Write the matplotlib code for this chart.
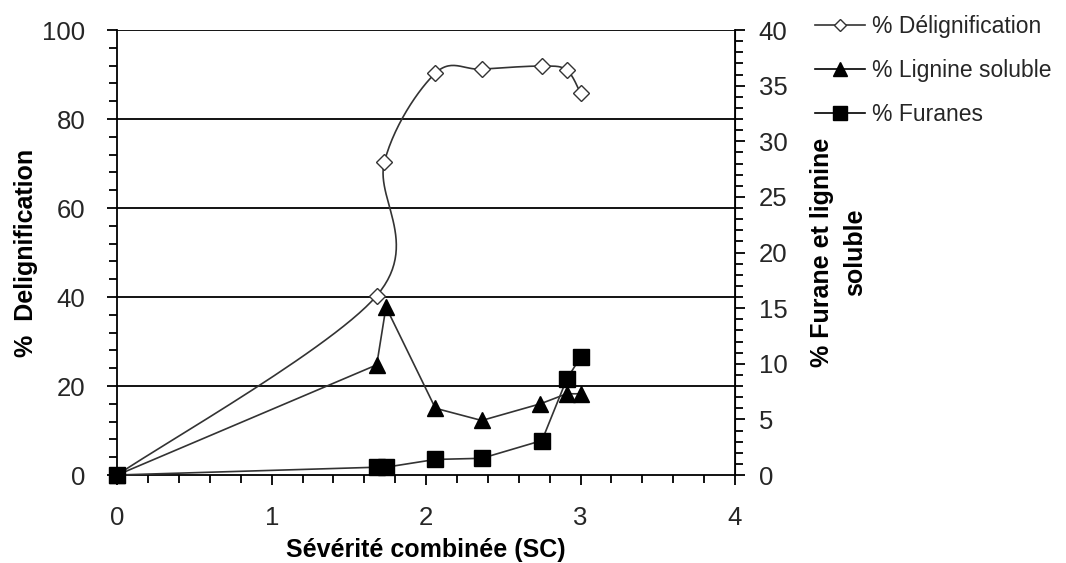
import numpy as np
import matplotlib.pyplot as plt
from matplotlib.ticker import MultipleLocator

plt.rcParams['font.family'] = ['Liberation Sans', 'DejaVu Sans']

# values
sc_delig = [0, 1.68, 1.73, 2.06, 2.36, 2.75, 2.91, 3.0]
delig = [0, 40.3, 70.4, 90.3, 91.2, 91.9, 91.0, 85.8]

sc_lign = [0, 1.68, 1.74, 2.06, 2.36, 2.74, 2.91, 3.0]
lign = [0, 9.9, 15.1, 6.0, 4.9, 6.4, 7.3, 7.3]

sc_fur = [0, 1.68, 1.74, 2.06, 2.36, 2.75, 2.91, 3.0]
fur = [0, 0.7, 0.7, 1.4, 1.5, 3.1, 8.6, 10.6]

labels = ['% Délignification', '% Lignine soluble', '% Furanes']


def smooth(x, y, n=30):
    # catmull-rom through the points, like excel's smoothed line
    p = np.column_stack([x, y]).astype(float)
    p = np.vstack([p[0], p, p[-1]])
    out = []
    for i in range(1, len(p) - 2):
        p0, p1, p2, p3 = p[i - 1], p[i], p[i + 1], p[i + 2]
        t = np.linspace(0, 1, n)[:, None]
        seg = 0.5 * ((2 * p1) + (-p0 + p2) * t + (2 * p0 - 5 * p1 + 4 * p2 - p3) * t ** 2
                     + (-p0 + 3 * p1 - 3 * p2 + p3) * t ** 3)
        out.append(seg)
    out = np.vstack(out)
    return out[:, 0], out[:, 1]


txt = '#262626'
fig = plt.figure(figsize=(10.66, 5.63), dpi=100)
ax = fig.add_axes([0.110, 0.1563, 0.5795, 0.7904])
ax2 = ax.twinx()

for yv in [20, 40, 60, 80, 100]:
    ax.axhline(yv, color='black', lw=1.3, zorder=0)

sx, sy = smooth(sc_delig, delig)
ax.plot(sx, sy, color='#333333', lw=1.2, zorder=2)
ax.plot(sc_delig, delig, ls='none', marker='D', ms=8, mfc='white', mec='#333333', mew=1.0,
        zorder=3, clip_on=False)

ax2.plot(sc_lign, lign, color='#333333', lw=1.2, marker='^', ms=11, mfc='black', mec='black',
         zorder=3, clip_on=False)
ax2.plot(sc_fur, fur, color='#333333', lw=1.2, marker='s', ms=11, mfc='black', mec='black',
         zorder=4, clip_on=False)

ax.set_xlim(0, 4)
ax.set_ylim(0, 100)
ax2.set_ylim(0, 40)

ax.xaxis.set_major_locator(MultipleLocator(1))
ax.xaxis.set_minor_locator(MultipleLocator(0.2))
ax.yaxis.set_major_locator(MultipleLocator(20))
ax.yaxis.set_minor_locator(MultipleLocator(4))
ax2.yaxis.set_major_locator(MultipleLocator(5))
ax2.yaxis.set_minor_locator(MultipleLocator(1))

for a in (ax, ax2):
    a.spines['top'].set_visible(False)
    a.tick_params(which='major', length=7, width=1.3, labelsize=18.5, labelcolor=txt)
    a.tick_params(which='minor', length=6, width=1.3)
ax.tick_params(axis='y', which='both', direction='out', pad=16)
ax.tick_params(axis='x', which='both', direction='out', pad=15)
ax2.tick_params(axis='y', which='both', direction='out', pad=10)
for s in ('left', 'bottom'):
    ax.spines[s].set_linewidth(1.3)
ax2.spines['right'].set_linewidth(1.3)
ax2.spines['left'].set_visible(False)
ax2.spines['bottom'].set_visible(False)

ax.set_xlabel('Sévérité combinée (SC)', fontsize=18, fontweight='bold', labelpad=6)
ax.set_ylabel('%  Delignification', fontsize=18, fontweight='bold', labelpad=3)
ax2.set_ylabel('% Furane et lignine\nsoluble', fontsize=18, fontweight='bold', labelpad=16,
               linespacing=1.5)

h1 = plt.Line2D([], [], color='#333333', lw=1.2, marker='D', ms=6, mfc='white', mec='#333333')
h2 = plt.Line2D([], [], color='black', lw=1.2, marker='^', ms=10, mfc='black')
h3 = plt.Line2D([], [], color='black', lw=1.2, marker='s', ms=10, mfc='black')
fig.legend([h1, h2, h3], labels,
           loc='upper left', bbox_to_anchor=(0.745, 1.01), frameon=False,
           fontsize=16.5, handlelength=2.2, labelspacing=0.92, handletextpad=0.3,
           labelcolor=txt)

fig.savefig('out.png', dpi=100)
